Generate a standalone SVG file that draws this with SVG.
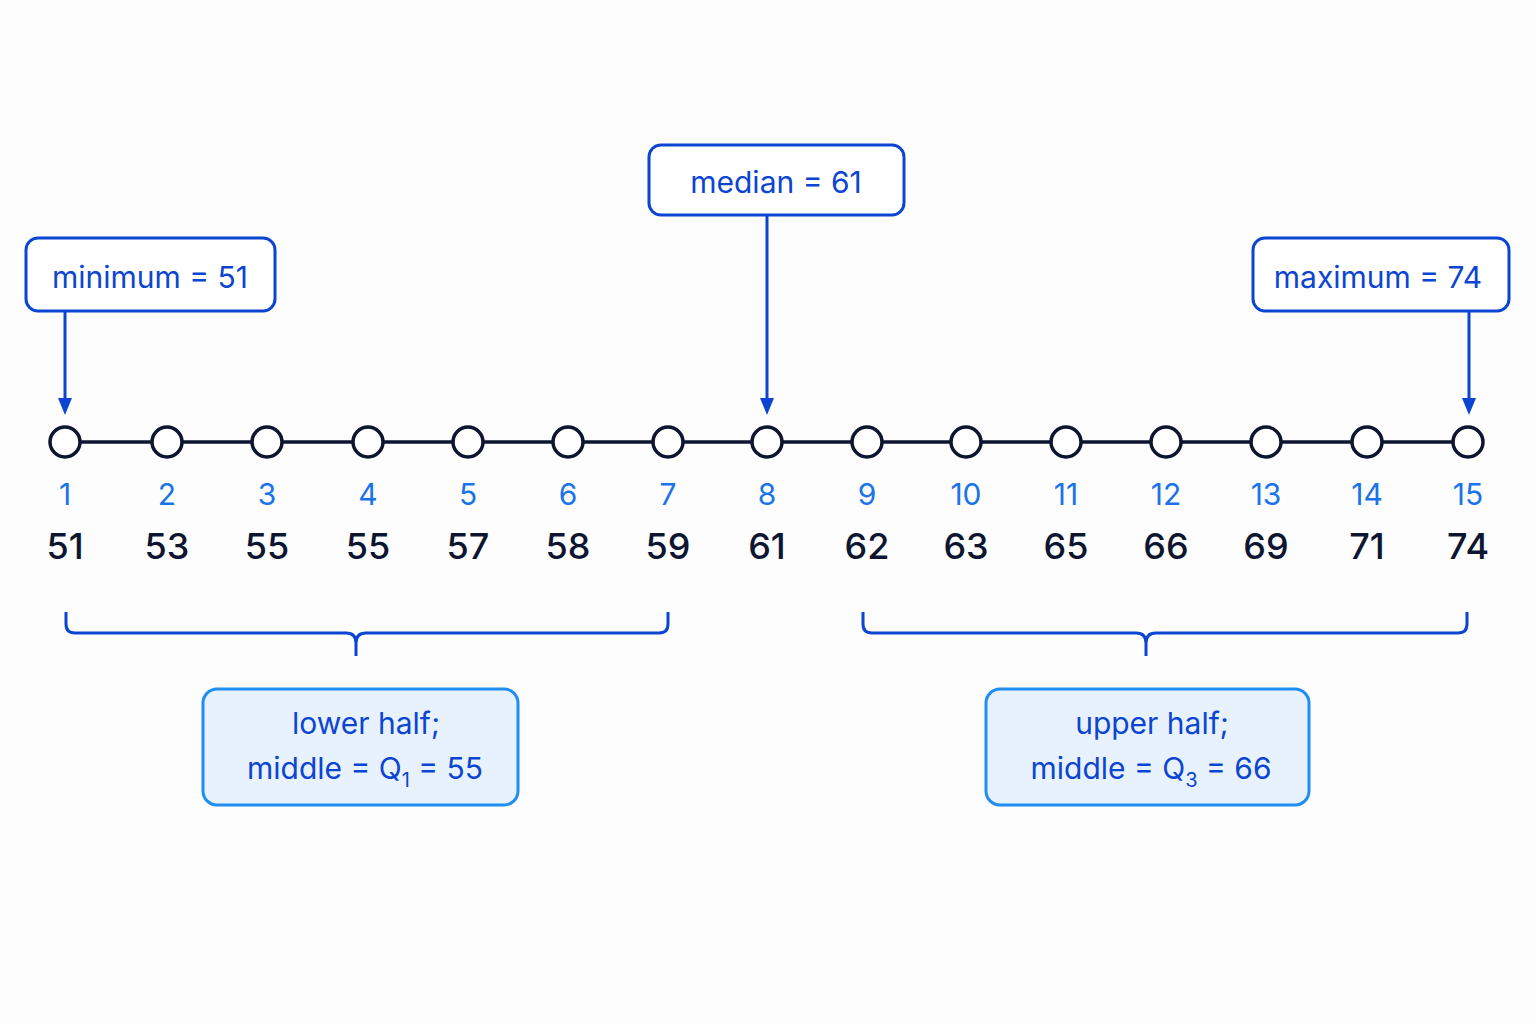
<svg xmlns="http://www.w3.org/2000/svg" width="1536" height="1024" viewBox="0 0 1536 1024">
<style>
.lbl{font-family:Inter,"Liberation Sans",sans-serif;font-size:30px;fill:#0b45d1;text-anchor:middle}
.idx{font-family:Inter,"Liberation Sans",sans-serif;font-size:30px;fill:#1a73e8;text-anchor:middle}
.val{font-family:Inter,"Liberation Sans",sans-serif;font-size:36px;font-weight:500;fill:#0d1530;text-anchor:middle}
.box{fill:#fff;stroke:#0b45d1;stroke-width:3}
.hbox{fill:#e8f2fe;stroke:#1e8ef0;stroke-width:3}
.pt{fill:#fff;stroke:#0d1530;stroke-width:3.5}
.arr{stroke:#0b45d1;stroke-width:3;fill:none}
.br{stroke:#0b45d1;stroke-width:3;fill:none}
</style>
<defs><marker id="ah" markerWidth="10" markerHeight="10" refX="8" refY="5" orient="auto" markerUnits="userSpaceOnUse" viewBox="0 0 10 10"><path d="M0,0L10,5L0,10z" fill="#0b45d1"/></marker></defs>
<rect width="1536" height="1024" fill="#fdfdfd"/>
<g id="connectors">
<line x1="65" y1="442" x2="1468" y2="442" stroke="#0d1530" stroke-width="3.5"/>
<path class="arr" d="M65,311V406" marker-end="url(#ah)" transform="translate(0,0)"/>
<path class="arr" d="M767,215V406"/>
<path class="arr" d="M1469,311V406"/>
<path d="M58,398L72,398L65,415z M760,398L774,398L767,415z M1462,398L1476,398L1469,415z" fill="#0b45d1"/>
<path class="br" d="M66,612V624Q66,633 75,633H346Q356,633 356,643V656M356,643Q356,633 366,633H659Q668,633 668,624V612"/>
<path class="br" d="M863,612V624Q863,633 872,633H1136Q1146,633 1146,643V656M1146,643Q1146,633 1156,633H1458Q1467,633 1467,624V612"/>
</g>
<g id="points">
<circle class="pt" cx="65" cy="442" r="15"/><circle class="pt" cx="167" cy="442" r="15"/><circle class="pt" cx="267" cy="442" r="15"/><circle class="pt" cx="368" cy="442" r="15"/><circle class="pt" cx="468" cy="442" r="15"/><circle class="pt" cx="568" cy="442" r="15"/><circle class="pt" cx="668" cy="442" r="15"/><circle class="pt" cx="767" cy="442" r="15"/><circle class="pt" cx="867" cy="442" r="15"/><circle class="pt" cx="966" cy="442" r="15"/><circle class="pt" cx="1066" cy="442" r="15"/><circle class="pt" cx="1166" cy="442" r="15"/><circle class="pt" cx="1266" cy="442" r="15"/><circle class="pt" cx="1367" cy="442" r="15"/><circle class="pt" cx="1468" cy="442" r="15"/>
</g>
<g id="indices">
<text class="idx" x="65" y="505">1</text><text class="idx" x="167" y="505">2</text><text class="idx" x="267" y="505">3</text><text class="idx" x="368" y="505">4</text><text class="idx" x="468" y="505">5</text><text class="idx" x="568" y="505">6</text><text class="idx" x="668" y="505">7</text><text class="idx" x="767" y="505">8</text><text class="idx" x="867" y="505">9</text><text class="idx" x="966" y="505">10</text><text class="idx" x="1066" y="505">11</text><text class="idx" x="1166" y="505">12</text><text class="idx" x="1266" y="505">13</text><text class="idx" x="1367" y="505">14</text><text class="idx" x="1468" y="505">15</text>
</g>
<g id="values">
<text class="val" x="65" y="559">51</text><text class="val" x="167" y="559">53</text><text class="val" x="267" y="559">55</text><text class="val" x="368" y="559">55</text><text class="val" x="468" y="559">57</text><text class="val" x="568" y="559">58</text><text class="val" x="668" y="559">59</text><text class="val" x="767" y="559">61</text><text class="val" x="867" y="559">62</text><text class="val" x="966" y="559">63</text><text class="val" x="1066" y="559">65</text><text class="val" x="1166" y="559">66</text><text class="val" x="1266" y="559">69</text><text class="val" x="1367" y="559">71</text><text class="val" x="1468" y="559">74</text>
</g>
<g id="minimum"><rect class="box" x="26" y="238" width="249" height="73" rx="12"/><text class="lbl" x="150" y="288">minimum = 51</text></g>
<g id="median"><rect class="box" x="649" y="145" width="255" height="70" rx="12"/><text class="lbl" x="776" y="193">median = 61</text></g>
<g id="maximum"><rect class="box" x="1253" y="238" width="256" height="73" rx="12"/><text class="lbl" x="1378" y="288">maximum = 74</text></g>
<g id="lower"><rect class="hbox" x="203" y="689" width="315" height="116" rx="14"/><text class="lbl" x="366" y="734">lower half;</text><text class="lbl" x="365" y="779">middle = Q<tspan font-size="20" dy="8">1</tspan><tspan dy="-8"> = 55</tspan></text></g>
<g id="upper"><rect class="hbox" x="986" y="689" width="323" height="116" rx="14"/><text class="lbl" x="1152" y="734">upper half;</text><text class="lbl" x="1151" y="779">middle = Q<tspan font-size="20" dy="8">3</tspan><tspan dy="-8"> = 66</tspan></text></g>
</svg>
